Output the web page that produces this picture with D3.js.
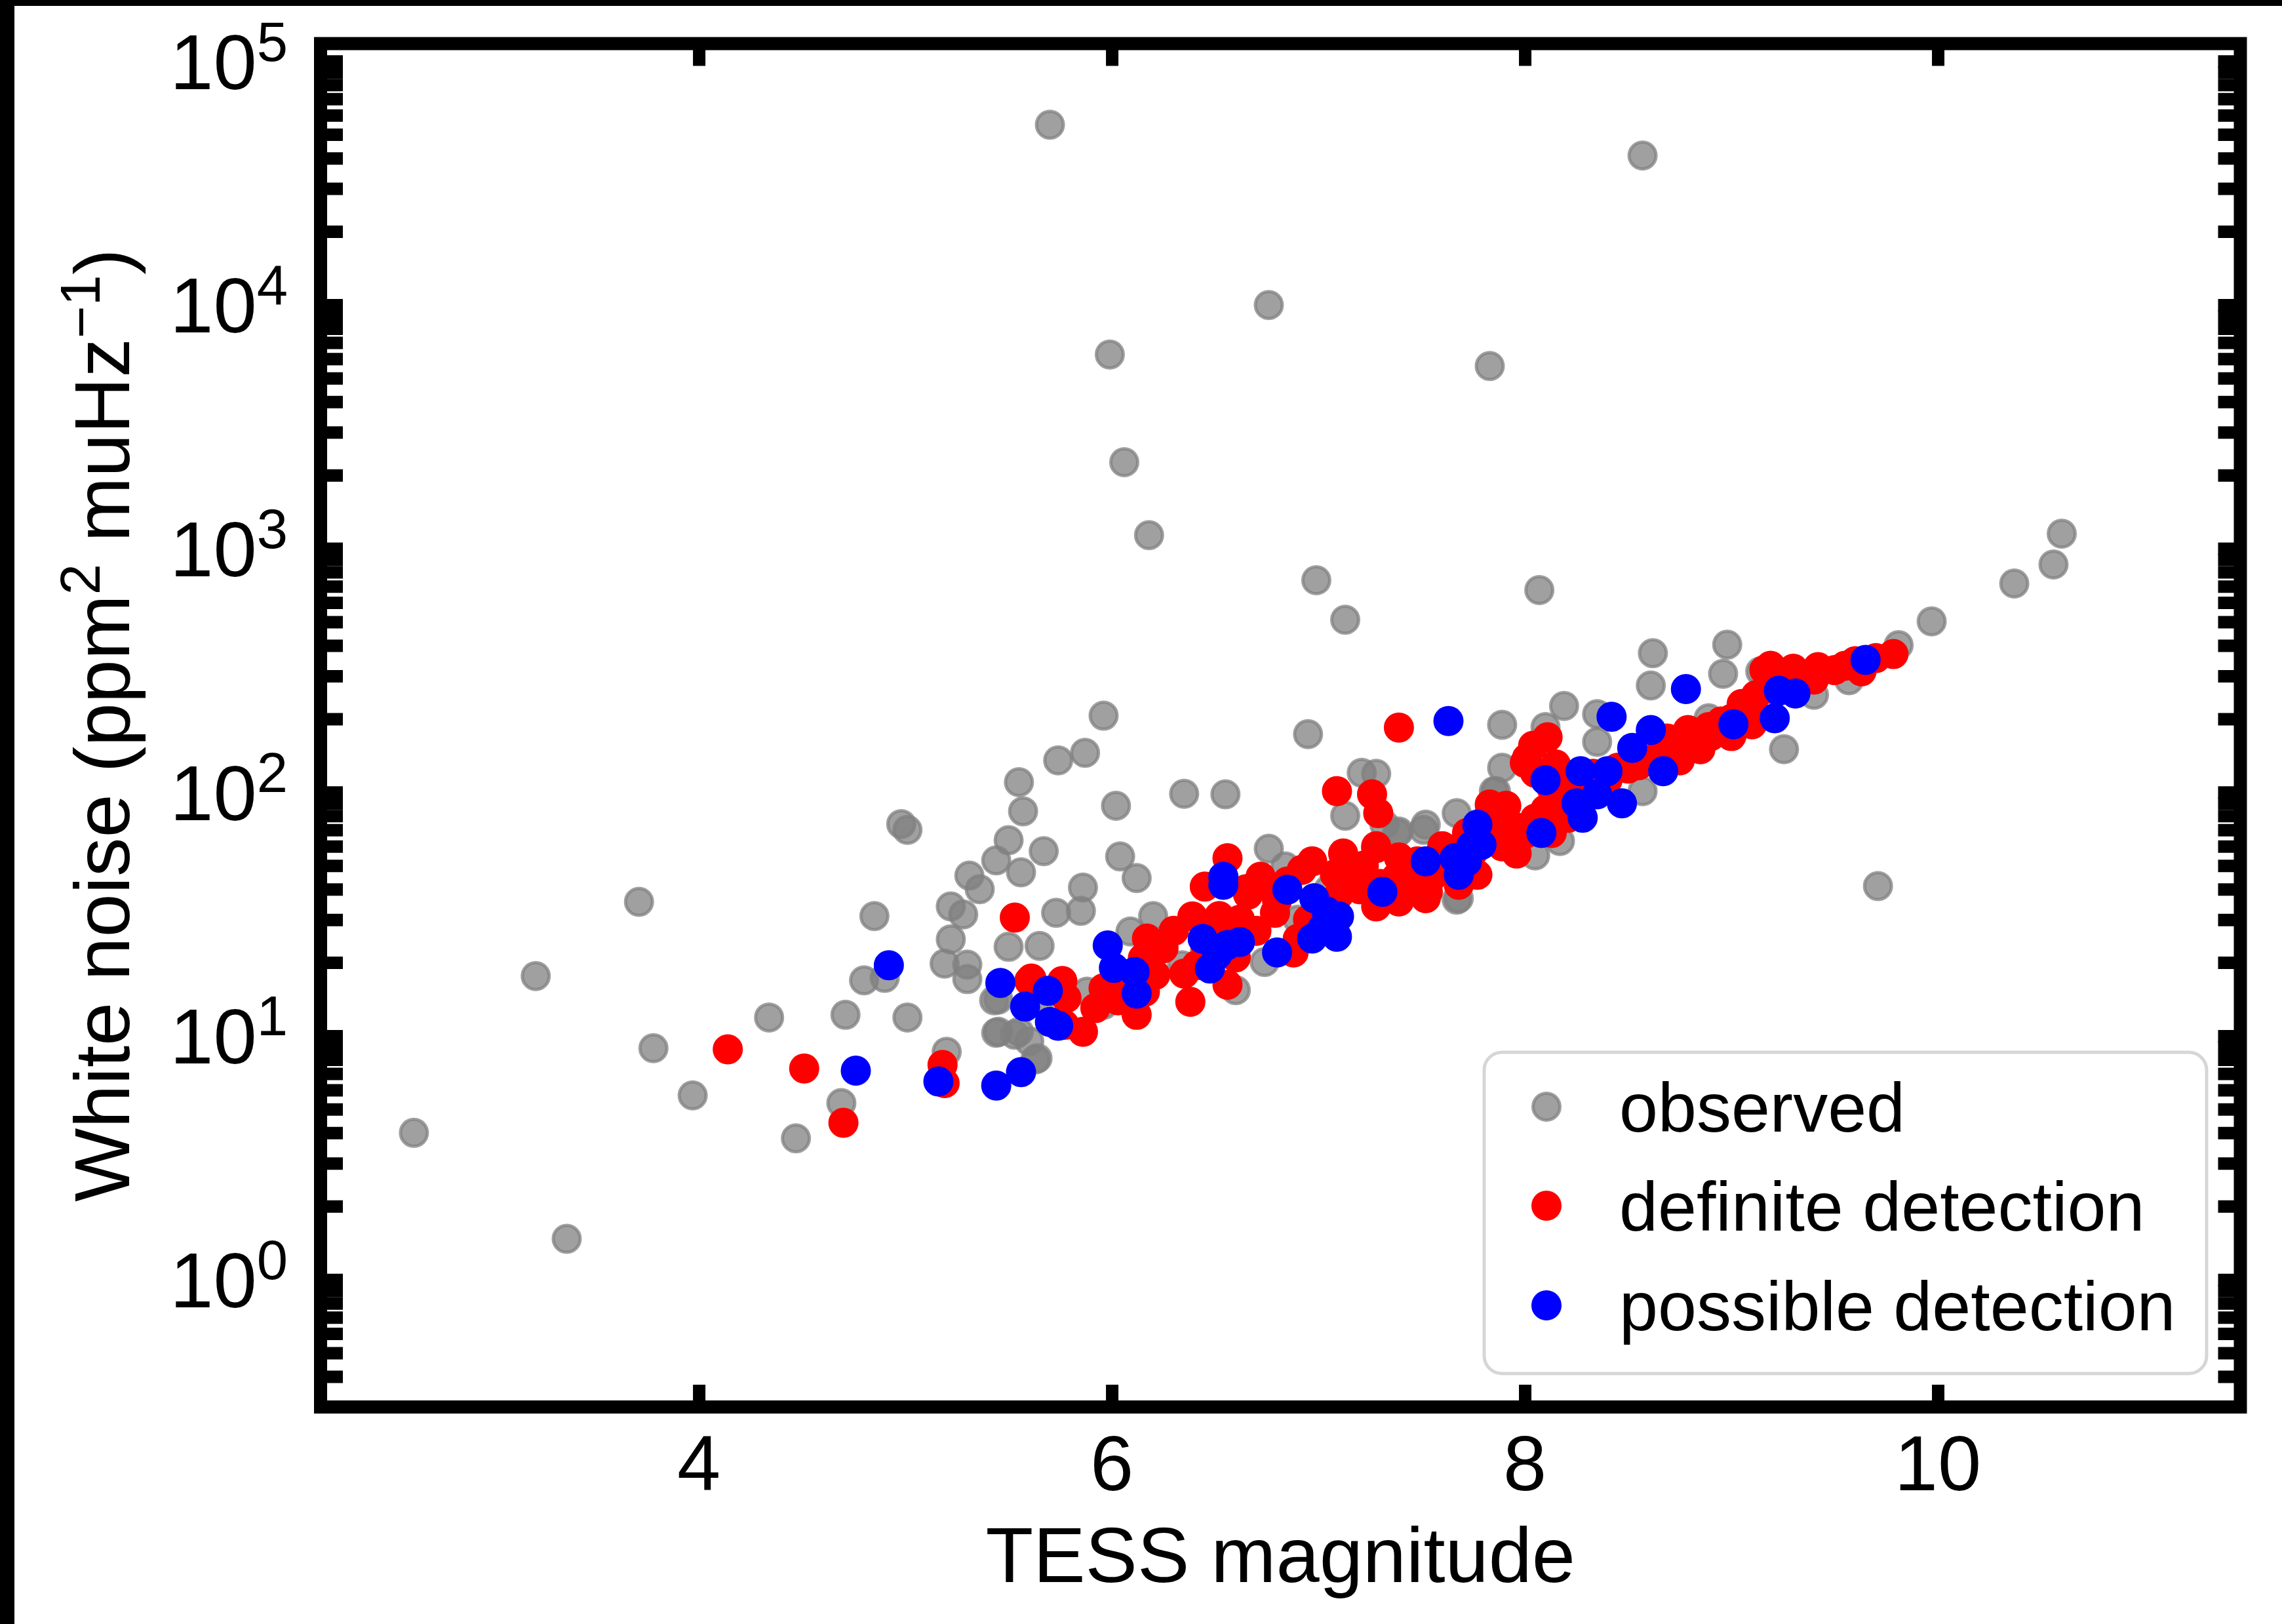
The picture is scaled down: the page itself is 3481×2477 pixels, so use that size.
<!DOCTYPE html>
<html>
<head>
<meta charset="utf-8">
<script src="https://cdn.jsdelivr.net/npm/d3@7"></script>
<style>
  html, body { margin: 0; padding: 0; background: #fff; }
  svg { display: block; }
  text { font-family: "Liberation Sans", Arial, Helvetica, sans-serif; fill: #000; }
</style>
</head>
<body>
<svg id="chart" width="3481" height="2477"></svg>
<script>
// [TESS magnitude, white noise (ppm^2 muHz^-1)]
const observed = [
  // scattered high-noise stars
  [5.70, 54800], [8.57, 41000], [6.76, 9980], [5.99, 6250], [7.83, 5610],
  [6.06, 2260], [6.18, 1135], [10.60, 1150], [10.56, 860], [10.37, 718],
  [6.99, 741], [8.07, 675], [7.13, 510], [9.97, 502], [8.62, 372],
  [8.98, 403], [8.96, 306], [8.61, 274], [9.71, 41.2], [5.96, 206],
  [5.87, 145], [5.74, 135], [5.55, 110], [5.57, 83.5], [6.95, 173],
  [7.21, 120], [6.35, 98.5], [6.55, 98], [6.02, 88], [8.19, 226],
  [7.89, 189],
  // bright-star cloud
  [4.98, 74], [5.01, 70], [5.50, 63.5], [5.67, 57.3], [5.44, 52.5],
  [5.56, 46.9], [5.31, 45.5], [5.36, 40], [5.86, 40.6], [5.22, 34],
  [5.28, 31.5], [5.73, 32], [5.85, 32.6], [4.85, 31], [5.22, 24.9],
  [5.50, 23.2], [5.65, 23.4], [5.19, 19.8], [5.30, 19.6], [5.30, 17.1],
  [4.80, 16.9], [4.90, 17.3], [5.45, 14.1], [5.65, 13.9], [5.44, 10.3],
  [5.53, 10.1], [5.60, 9.5], [5.63, 8.0], [4.34, 11.9], [4.71, 12.2],
  [5.01, 11.9], [3.78, 8.9], [5.20, 8.6], [3.97, 5.7], [4.69, 5.3],
  [4.47, 3.8], [3.71, 35.5], [3.21, 17.6], [2.62, 4.0], [3.36, 1.47],
  [5.43, 14.0], [5.45, 10.4], [5.55, 10.4], [5.64, 8.1], [5.96, 13.4],
  [5.88, 15.2],
  // around the main sequence
  [6.04, 54.5], [6.12, 44.4], [6.20, 31], [6.76, 58.6], [6.84, 49.6],
  [6.09, 26.8], [6.74, 20.1], [6.60, 15.4], [7.52, 73.6], [7.39, 69],
  [7.32, 73.6], [7.68, 36.7], [7.13, 80], [7.86, 101], [6.34, 19.5],
  [8.35, 209], [8.35, 161], [8.10, 185], [7.89, 126], [7.85, 101],
  [7.67, 82], [7.51, 70], [7.38, 68], [7.67, 36.2], [8.05, 55],
  [8.17, 63], [8.57, 101], [8.89, 201], [9.40, 251], [9.57, 288],
  [9.14, 313], [9.81, 401], [9.255, 150], [7.28, 119], [6.90, 30],
  [7.05, 40], [7.45, 50], [7.80, 66], [8.25, 95], [8.70, 150],
  [9.05, 215], [9.30, 260], [9.62, 330], [6.45, 22], [6.15, 17]
];

const definite = [
  [4.14, 8.8], [4.51, 7.35], [4.70, 4.4], [5.18, 7.6], [5.19, 6.4],
  [5.53, 30.6], [5.61, 17.2], [5.60, 16.8], [5.76, 16.8], [5.78, 14.3],
  [5.86, 10.4], [5.77, 11.1], [5.96, 15.7], [6.12, 12.2], [6.17, 25.1],
  [6.25, 22.9], [6.21, 17.8], [6.16, 15.2], [6.15, 20.8], [6.38, 13.8],
  [6.39, 30.9], [6.52, 31], [6.50, 27], [6.56, 53.6], [6.45, 41],
  [6.56, 16.2], [6.41, 19.5], [6.65, 40], [6.72, 45], [6.74, 42],
  [6.66, 38], [6.79, 32], [6.88, 22], [6.97, 52], [7.08, 46],
  [7.17, 44], [7.09, 101], [7.26, 98], [7.29, 82], [7.39, 184],
  [7.28, 59], [7.39, 54], [7.30, 42], [7.46, 46], [7.55, 49],
  [7.63, 54], [7.77, 69], [7.83, 89], [7.90, 83], [7.39, 35.6],
  [7.52, 36.7], [7.68, 41.7], [7.77, 45.8], [6.90, 25], [6.80, 36],
  [6.62, 30], [6.70, 27], [6.30, 27], [6.45, 24], [6.60, 21],
  [6.95, 30], [7.00, 35], [7.10, 38], [7.20, 40], [7.05, 29],
  [6.85, 43], [6.92, 48], [7.22, 50], [7.12, 56], [6.35, 18],
  [6.03, 14], [5.92, 13], [6.07, 16.5],
  [8.11, 168], [8.01, 138], [8.00, 132], [8.04, 155], [9.19, 330],
  [9.30, 321], [9.42, 326], [9.50, 317], [9.63, 313], [9.785, 369],
  [9.10, 212], [8.98, 180], [8.86, 166], [8.74, 152], [8.64, 140],
  [8.55, 129], [8.45, 126], [8.33, 119], [8.25, 109], [8.13, 104],
  [7.91, 88], [7.82, 78.5], [7.72, 68], [7.60, 60], [7.48, 52],
  [7.38, 45], [7.31, 39], [8.01, 68], [7.96, 56], [7.89, 60],
  [8.16, 90], [8.21, 78.5], [8.13, 68], [7.28, 60], [7.40, 52],
  [7.53, 39], [7.28, 34], [8.69, 166], [8.79, 180], [8.89, 185],
  [9.16, 317], [9.00, 200], [9.05, 230], [9.12, 250], [9.20, 265],
  [9.25, 285], [9.35, 300], [9.40, 290], [9.55, 330], [9.60, 345],
  [9.70, 355], [8.95, 195], [8.90, 170], [8.80, 160], [8.70, 150],
  [8.60, 135], [8.50, 125], [8.40, 112], [8.30, 100], [8.20, 95],
  [8.10, 85], [8.05, 78], [7.95, 72], [7.85, 64], [7.75, 57],
  [7.65, 50], [7.55, 45], [7.45, 42], [7.35, 38], [8.05, 120],
  [8.15, 130], [8.75, 135], [8.85, 150], [9.00, 170], [9.10, 190]
];

const possible = [
  [4.92, 19.5], [4.76, 7.2], [5.16, 6.5], [5.44, 6.25], [5.56, 7.1],
  [5.46, 16.5], [5.58, 13.2], [5.69, 15.3], [5.70, 11.4], [5.74, 11.0],
  [5.98, 23.5], [6.01, 19.0], [6.11, 18.3], [6.12, 14.9], [6.54, 45],
  [6.54, 41.7], [6.44, 25], [6.475, 18.9], [6.56, 23.6], [6.62, 24.3],
  [6.51, 21.5], [6.80, 22], [6.85, 39.8], [6.98, 36.7], [7.04, 32.4],
  [7.10, 30.9], [7.02, 27.6], [6.97, 25.1], [7.09, 25.5], [7.31, 39],
  [7.63, 196], [7.52, 52], [7.66, 53.6], [7.68, 45.8], [7.77, 73.6],
  [7.79, 60.8], [7.74, 60], [7.72, 52], [8.78, 265], [8.42, 204],
  [8.61, 180], [8.52, 152], [8.67, 122], [9.01, 190], [9.21, 201],
  [9.23, 261], [9.31, 254], [9.65, 349], [8.10, 112], [8.27, 122],
  [8.40, 122], [8.47, 90], [8.28, 78.5], [8.08, 68], [8.35, 98],
  [8.25, 90]
];

const xTickValues = [4, 6, 8, 10];
const yDecades = [0, 1, 2, 3, 4, 5];
const legendLabels = ["observed", "definite detection", "possible detection"];
const seriesColors = ["#808080", "#ff0000", "#0000ff"];

const svg = d3.select("#chart");
const box = { left: 489, right: 3417.5, top: 66.5, bottom: 2146 };
const tickLen = 34, tickWidth = 19, spineWidth = 20;

const x = d3.scaleLinear().domain([2.168, 11.465]).range([box.left, box.right]);
const y = d3.scaleLog().domain([0.3, 1.18e5]).range([box.bottom, box.top]);

// edge bars of the figure
svg.append("rect").attr("x", 0).attr("y", 0).attr("width", 3481).attr("height", 9).attr("fill", "#000");
svg.append("rect").attr("x", 0).attr("y", 0).attr("width", 22).attr("height", 2477).attr("fill", "#000");

// scatter layers
const markR = 20.5, markStroke = 5;
function layer(data, color, opacity) {
  svg.append("g").selectAll("circle").data(data).join("circle")
    .attr("cx", d => x(d[0])).attr("cy", d => y(d[1])).attr("r", markR)
    .attr("fill", color).attr("fill-opacity", opacity)
    .attr("stroke", color).attr("stroke-opacity", opacity)
    .attr("stroke-width", markStroke);
}
layer(observed, seriesColors[0], 0.75);
layer(definite, seriesColors[1], 1);
layer(possible, seriesColors[2], 1);

// ticks pointing inward on all four sides
function styleAxis(g) {
  g.select(".domain").remove();
  g.selectAll(".tick line").attr("stroke", "#000").attr("stroke-width", tickWidth);
  g.selectAll(".tick text").remove();
}
const yTicks = y.ticks();
svg.append("g").attr("transform", `translate(${box.left},0)`)
  .call(d3.axisLeft(y).tickValues(yTicks).tickSize(-tickLen)).call(styleAxis);
svg.append("g").attr("transform", `translate(${box.right},0)`)
  .call(d3.axisRight(y).tickValues(yTicks).tickSize(-tickLen)).call(styleAxis);
svg.append("g").attr("transform", `translate(0,${box.bottom})`)
  .call(d3.axisBottom(x).tickValues(xTickValues).tickSize(-tickLen)).call(styleAxis);
svg.append("g").attr("transform", `translate(0,${box.top})`)
  .call(d3.axisTop(x).tickValues(xTickValues).tickSize(-tickLen)).call(styleAxis);

// frame
svg.append("rect")
  .attr("x", box.left).attr("y", box.top)
  .attr("width", box.right - box.left).attr("height", box.bottom - box.top)
  .attr("fill", "none").attr("stroke", "#000").attr("stroke-width", spineWidth);

// tick labels
const fontMain = 119, fontSup = 85;
svg.append("g").selectAll("text").data(xTickValues).join("text")
  .attr("x", d => x(d)).attr("y", 2273).attr("text-anchor", "middle")
  .attr("font-size", fontMain).text(d => d);

const yl = svg.append("g").selectAll("text").data(yDecades).join("text")
  .attr("x", 439).attr("y", d => y(Math.pow(10, d)) + 42.5)
  .attr("text-anchor", "end").attr("font-size", fontMain);
yl.append("tspan").text("10");
yl.append("tspan").attr("dy", -43).attr("font-size", fontSup).text(d => d);

// axis titles
svg.append("text").attr("x", (box.left + box.right) / 2).attr("y", 2413)
  .attr("text-anchor", "middle").attr("font-size", fontMain).text("TESS magnitude");

const yt = svg.append("text")
  .attr("transform", `translate(197,${(box.top + box.bottom) / 2}) rotate(-90)`)
  .attr("text-anchor", "middle").attr("font-size", fontMain);
yt.append("tspan").text("White noise (ppm");
yt.append("tspan").attr("dy", -45).attr("font-size", fontSup).text("2");
yt.append("tspan").attr("dy", 45).text(" muHz");
yt.append("tspan").attr("dy", -45).attr("font-size", fontSup).text("\u22121");
yt.append("tspan").attr("dy", 45).text(")");

// legend
const lg = svg.append("g");
lg.append("rect").attr("x", 2264).attr("y", 1605).attr("width", 1102).attr("height", 490)
  .attr("rx", 27).attr("ry", 27)
  .attr("fill", "#fff").attr("fill-opacity", 0.8)
  .attr("stroke", "#d6d6d6").attr("stroke-width", 5);
const rowY = [1688, 1839, 1991];
legendLabels.forEach((lab, i) => {
  const op = i === 0 ? 0.75 : 1;
  lg.append("circle").attr("cx", 2359).attr("cy", rowY[i]).attr("r", markR)
    .attr("fill", seriesColors[i]).attr("fill-opacity", op)
    .attr("stroke", seriesColors[i]).attr("stroke-opacity", op).attr("stroke-width", markStroke);
  lg.append("text").attr("x", 2470).attr("y", rowY[i] + 38)
    .attr("font-size", 106).text(lab);
});
</script>
</body>
</html>
